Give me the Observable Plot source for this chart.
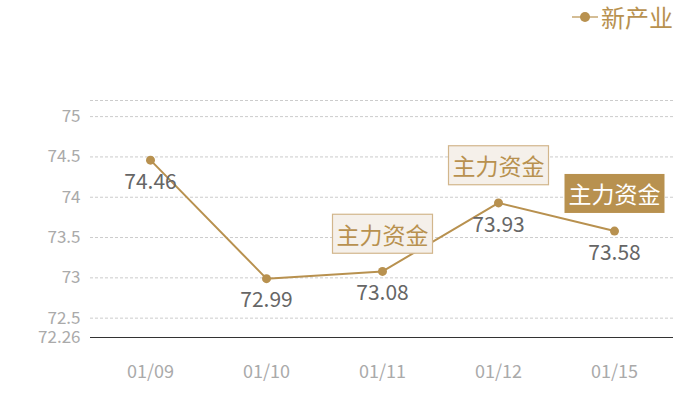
<!DOCTYPE html>
<html><head><meta charset="utf-8">
<script src="https://cdn.jsdelivr.net/npm/d3@7"></script>
<script src="https://cdn.jsdelivr.net/npm/@observablehq/plot@0.6"></script>
<style>
body{margin:0;background:#fff;font-family:"Noto Sans CJK SC",sans-serif;}
#wrap{position:relative;width:700px;height:400px;}
#legend{position:absolute;top:2px;left:572px;display:flex;align-items:center;color:#b8914f;font-size:24px;line-height:30px;}
</style></head><body>
<div id="wrap"></div>
<script>
const dates = ["01/09","01/10","01/11","01/12","01/15"];
const values = [74.46,72.99,73.08,73.93,73.58];
const yTicks = [72.26,72.5,73,73.5,74,74.5,75];
const gridLines = [72.5,73,73.5,74,74.5,75,75.2];
const yDomain = [72.26,75.2];
const seriesName = "新产业";
const annotLight = ["01/11","01/12"];
const annotDark = ["01/15"];
const annotText = "主力资金";

const gold = "#b8914f";
const data = dates.map((d,i)=>({date:d, value:values[i]}));
const lightData = data.filter(d=>annotLight.includes(d.date));
const darkData = data.filter(d=>annotDark.includes(d.date));
const font = '"Noto Sans CJK SC", sans-serif';

const chart = Plot.plot({
  width:700, height:400,
  marginTop:100, marginBottom:63, marginLeft:90, marginRight:27,
  style:{fontFamily:font, background:"#fff", overflow:"visible"},
  x:{type:"point", domain:dates, padding:0.5, label:null},
  y:{domain:yDomain, label:null},
  marks:[
    Plot.ruleY(gridLines,{stroke:"#cccccc", strokeDasharray:"3,2", strokeWidth:1}),
    Plot.axisY(yTicks,{tickSize:0, tickPadding:10, fill:"#aaaaaa", fontSize:17, tickFormat:d=>String(d), label:null}),
    Plot.axisX({tickSize:0, tickPadding:28, fill:"#aaaaaa", fontSize:18, label:null}),
    Plot.ruleY([yDomain[0]],{stroke:"#333", strokeWidth:1}),
    Plot.line(data,{x:"date", y:"value", stroke:gold, strokeWidth:2}),
    Plot.dot(data,{x:"date", y:"value", fill:gold, r:4.5}),
    Plot.text(data,{x:"date", y:"value", text:d=>String(d.value), dy:22, fill:"#666666", fontSize:21}),
    Plot.text(lightData,{x:"date", y:"value", text:()=>annotText, dy:-35, fill:gold, fontSize:23}),
    Plot.text(darkData,{x:"date", y:"value", text:()=>annotText, dy:-35, fill:"#ffffff", fontSize:23})
  ]
});
const wrap = document.getElementById("wrap");
wrap.appendChild(chart);

const textGroups = chart.querySelectorAll('g[aria-label="text"]');
function boxes(group, fill, stroke){
  if (!group) return;
  group.querySelectorAll("text").forEach(t=>{
    const b = t.getBBox();
    const r = document.createElementNS("http://www.w3.org/2000/svg","rect");
    const px=4, py=2.5;
    r.setAttribute("x", b.x-px); r.setAttribute("y", b.y-py);
    r.setAttribute("width", b.width+2*px); r.setAttribute("height", b.height+2*py);
    r.setAttribute("fill", fill);
    if (stroke){ r.setAttribute("stroke", stroke); r.setAttribute("stroke-width", 1.2); }
    const tr = t.getAttribute("transform");
    if (tr) r.setAttribute("transform", tr);
    t.parentNode.insertBefore(r, t);
  });
}
boxes(textGroups[1], "#f5f0ea", "#d2b68c");
boxes(textGroups[2], gold, null);

const legend = document.createElement("div");
legend.id = "legend";
legend.innerHTML = `<svg width="26" height="14"><line x1="0" y1="7" x2="26" y2="7" stroke="${gold}" stroke-opacity="0.6" stroke-width="2"/><circle cx="13" cy="7" r="5" fill="${gold}"/></svg><span style="margin-left:3px"></span>`;
legend.querySelector("span").textContent = seriesName;
wrap.appendChild(legend);
</script>
</body></html>
